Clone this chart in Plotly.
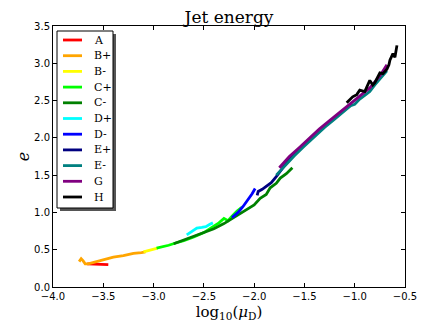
import plotly.graph_objects as go

# series (x = log10(mu_D), y = e)
names = ['A', 'B+', 'B-', 'C+', 'C-', 'D+', 'D-', 'E+', 'E-', 'G', 'H']
colors = ['red', 'orange', 'yellow', 'lime', 'green', 'cyan', 'blue',
          'navy', 'teal', 'purple', 'black']

A_x = [-3.66, -3.6, -3.55, -3.5, -3.45]
A_y = [0.31, 0.31, 0.31, 0.30, 0.30]

Bp_x = [-3.74, -3.72, -3.70, -3.68, -3.65, -3.6, -3.5, -3.4, -3.3, -3.2, -3.12, -3.08]
Bp_y = [0.34, 0.38, 0.35, 0.31, 0.31, 0.33, 0.37, 0.40, 0.42, 0.45, 0.46, 0.47]

Bm_x = [-3.1, -3.05, -3.0, -2.96]
Bm_y = [0.47, 0.49, 0.51, 0.52]

Cp_x = [-2.97, -2.9, -2.85, -2.78, -2.7, -2.6, -2.5, -2.42, -2.35, -2.3, -2.26,
        -2.22, -2.17, -2.12]
Cp_y = [0.52, 0.54, 0.56, 0.59, 0.62, 0.67, 0.73, 0.80, 0.86, 0.92, 0.89,
        0.95, 1.02, 1.07]

Cm_x = [-2.8, -2.7, -2.6, -2.5, -2.4, -2.3, -2.2, -2.1, -2.0, -1.94, -1.88,
        -1.84, -1.78, -1.74, -1.68, -1.62]
Cm_y = [0.58, 0.63, 0.67, 0.72, 0.78, 0.85, 0.93, 1.01, 1.10, 1.19, 1.24,
        1.33, 1.39, 1.46, 1.52, 1.60]

Dp_x = [-2.67, -2.62, -2.57, -2.52, -2.48, -2.44, -2.41]
Dp_y = [0.70, 0.75, 0.79, 0.80, 0.81, 0.84, 0.86]

Dm_x = [-2.22, -2.16, -2.11, -2.06, -2.02, -1.99]
Dm_y = [0.93, 1.00, 1.08, 1.17, 1.25, 1.32]

Ep_x = [-1.97, -1.96, -1.92, -1.88, -1.83, -1.78, -1.73, -1.68, -1.6, -1.5, -1.4]
Ep_y = [1.23, 1.28, 1.31, 1.35, 1.40, 1.48, 1.57, 1.66, 1.78, 1.92, 2.05]

Em_x = [-1.78, -1.7, -1.6, -1.5, -1.4, -1.3, -1.2, -1.1, -1.04, -1.0, -0.95,
        -0.9, -0.85, -0.8, -0.75, -0.68]
Em_y = [1.50, 1.62, 1.76, 1.89, 2.02, 2.14, 2.25, 2.37, 2.43, 2.45, 2.52,
        2.57, 2.62, 2.71, 2.79, 2.90]

G_x = [-1.75, -1.65, -1.55, -1.45, -1.35, -1.25, -1.15, -1.05, -0.95, -0.85,
       -0.8, -0.75, -0.68]
G_y = [1.60, 1.75, 1.87, 2.00, 2.12, 2.23, 2.34, 2.45, 2.56, 2.67, 2.75,
       2.83, 2.98]

H_x = [-1.08, -1.02, -0.98, -0.95, -0.9, -0.88, -0.85, -0.82, -0.8, -0.75,
       -0.72, -0.68, -0.66, -0.65, -0.62, -0.6, -0.59, -0.58]
H_y = [2.47, 2.55, 2.58, 2.64, 2.62, 2.68, 2.77, 2.71, 2.74, 2.87, 2.86,
       2.92, 2.98, 3.04, 3.13, 3.08, 3.18, 3.24]

xs = [A_x, Bp_x, Bm_x, Cp_x, Cm_x, Dp_x, Dm_x, Ep_x, Em_x, G_x, H_x]
ys = [A_y, Bp_y, Bm_y, Cp_y, Cm_y, Dp_y, Dm_y, Ep_y, Em_y, G_y, H_y]

xticks = [-4.0, -3.5, -3.0, -2.5, -2.0, -1.5, -1.0, -0.5]
yticks = [0.0, 0.5, 1.0, 1.5, 2.0, 2.5, 3.0, 3.5]

# plot box in pixels (the page adds an 8px body margin around the figure)
OFF = 8
L, T, PW, PH = 45, 18, 352, 261


def px(x):
    return (x - L - OFF) / PW


def py(y):
    return 1 - (y - T - OFF) / PH


fig = go.Figure()
for n, c, x, y in zip(names, colors, xs, ys):
    fig.add_trace(go.Scatter(x=x, y=y, name=n, mode='lines', showlegend=False,
                             line=dict(color=c, width=2.8)))

axis_common = dict(showgrid=False, zeroline=False, showline=True, mirror='ticks',
                   linecolor='black', linewidth=1, ticks='inside', ticklen=4,
                   tickcolor='black', automargin=False,
                   tickfont=dict(family='DejaVu Sans', size=10, color='black'))

fig.update_xaxes(range=[-4.0, -0.5], tickvals=xticks,
                 ticktext=['\u2212%.1f' % abs(v) for v in xticks],
                 title=dict(text='log<sub>10</sub>(<i>\u03bc</i><sub>D</sub>)',
                            font=dict(family='DejaVu Serif', size=15, color='black'),
                            standoff=5),
                 **axis_common)
fig.update_yaxes(range=[0, 3.5], tickvals=yticks,
                 ticktext=['%.1f' % v for v in yticks],
                 title=dict(text='<i>e</i>',
                            font=dict(family='DejaVu Serif', size=16, color='black'),
                            standoff=0),
                 **axis_common)

# hand-drawn legend box with matplotlib-style shadow
shapes = [
    dict(type='rect', xref='paper', yref='paper', x0=px(60), x1=px(116),
         y0=py(211), y1=py(34), fillcolor='#555555', line=dict(width=0)),
    dict(type='rect', xref='paper', yref='paper', x0=px(57), x1=px(113),
         y0=py(208), y1=py(31), fillcolor='white', line=dict(color='black', width=1)),
]
annotations = []
for i, (n, c) in enumerate(zip(names, colors)):
    yy = 40 + i * 15.7
    shapes.append(dict(type='line', xref='paper', yref='paper', x0=px(63), x1=px(82),
                       y0=py(yy), y1=py(yy), line=dict(color=c, width=2.8)))
    annotations.append(dict(text=n, xref='paper', yref='paper', x=px(92), y=py(yy),
                            xanchor='left', yanchor='middle', showarrow=False,
                            font=dict(family='DejaVu Serif', size=11, color='black')))

fig.update_layout(
    width=436, height=327,
    margin=dict(l=L, r=436 - L - PW, t=T, b=327 - T - PH),
    paper_bgcolor='white', plot_bgcolor='white',
    title=dict(text='Jet energy', xref='paper', x=0.5, xanchor='center',
               y=1 - 9 / 327, yanchor='middle', automargin=False,
               font=dict(family='DejaVu Serif', size=17, color='black')),
    shapes=shapes, annotations=annotations,
    showlegend=False,
)

fig.write_html("out.html")
